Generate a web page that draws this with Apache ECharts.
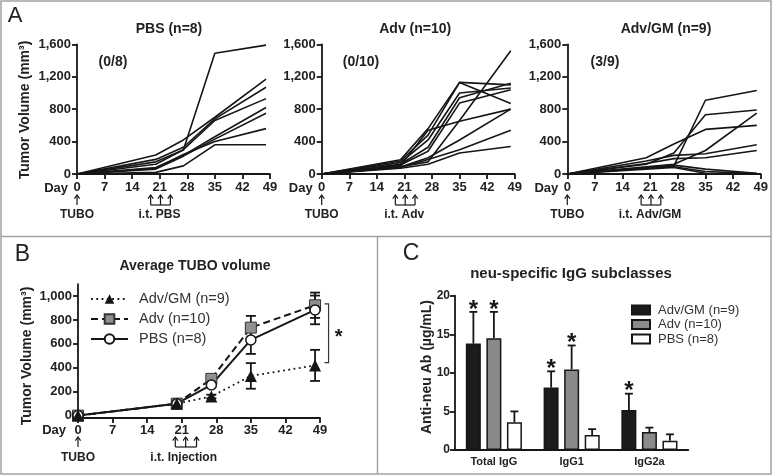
<!DOCTYPE html>
<html><head><meta charset="utf-8">
<script src="https://cdn.jsdelivr.net/npm/echarts@6/dist/echarts.min.js"></script>
<style>html,body{margin:0;padding:0;background:#fff}#c{width:773px;height:475px}</style>
</head><body><div id="c"></div>
<script>
const FONT = '"Liberation Sans", Arial, Helvetica, sans-serif';
const INK = '#161616';
const TXT = '#222';

// ---------- Panel A data (day, tumor volume mm3) ----------
const aDays = [0, 20, 27, 35, 48];
const pbsLines = [
  [0, 150, 297, 1490, 1590],
  [0, 235, 420, 700, 1170],
  [0, 180, 330, 680, 1070],
  [0, 120, 300, 660, 930],
  [0, 80, 230, 460, 820],
  [0, 60, 220, 430, 750],
  [0, 70, 240, 400, 560],
  [0, 20, 100, 360, 360]
];
const advLines = [
  [0, 90, 150, 660, 1520],
  [0, 160, 480, 1130, 1100],
  [0, 175, 560, 1130, 870],
  [0, 140, 420, 1000, 1060],
  [0, 120, 330, 940, 1120],
  [0, 110, 280, 875, 1040],
  [0, 100, 540, 650, 800],
  [0, 85, 200, 420, 800],
  [0, 80, 180, 300, 540],
  [0, 70, 120, 260, 340]
];
const gmLines = [
  [0, 70, 100, 910, 1030],
  [0, 120, 260, 730, 790],
  [0, 200, 370, 550, 600],
  [0, 90, 120, 290, 750],
  [0, 160, 230, 250, 360],
  [0, 130, 190, 200, 290],
  [0, 80, 110, 60, 10],
  [0, 70, 90, 30, 5],
  [0, 60, 80, 10, 0]
];
const aTitles = ['PBS (n=8)', 'Adv (n=10)', 'Adv/GM (n=9)'];
const aCounts = ['(0/8)', '(0/10)', '(3/9)'];
const aInjLabels = ['i.t. PBS', 'i.t. Adv', 'i.t. Adv/GM'];
const injDaysA = [18.7, 21.2, 23.7];

// ---------- Panel B data ----------
const bDays = [0, 20, 27, 35, 48];
const bGmMean = [0, 100, 160, 332, 420];
const bGmSem = [0, 8, 15, 107, 130];
const bAdvMean = [0, 100, 307, 736, 923];
const bAdvSem = [0, 8, 20, 98, 106];
const bPbsMean = [0, 100, 257, 633, 884];
const bPbsSem = [0, 8, 20, 117, 120];
const bYTicks = [0, 200, 400, 600, 800, 1000];
const bBracket = [48, 935, 443];
const injDaysB = [19.7, 21.8, 24];

// ---------- Panel C data ----------
const cCats = ['Total IgG', 'IgG1', 'IgG2a'];
const cGm = [13.8, 8.1, 5.2];
const cGmErr = [4.1, 2.1, 2.1];
const cAdv = [14.5, 10.45, 2.33];
const cAdvErr = [3.4, 3.1, 0.57];
const cPbs = [3.6, 1.94, 1.2];
const cPbsErr = [1.4, 0.76, 0.83];
const cGmSig = [1, 1, 1];
const cAdvSig = [1, 1, 0];
const cPbsSig = [0, 0, 0];

const legB = ['Adv/GM (n=9)', 'Adv (n=10)', 'PBS (n=8)'];
const legC = ['C:Adv/GM (n=9)', 'C:Adv (n=10)', 'C:PBS (n=8)'];

// ---------- layout ----------
const gridsA = [
  {left: 77, top: 44.3, width: 193, height: 129.7},
  {left: 321.7, top: 44.3, width: 193, height: 129.7},
  {left: 567.3, top: 44.3, width: 193.4, height: 129.7}
];
const gridB = {left: 78, top: 284.1, width: 242, height: 133.9};
const gridC = {left: 455, top: 295.7, width: 233.3, height: 154.3};

function addCommas(v){ return String(v).replace(/\B(?=(\d{3})+(?!\d))/g, ','); }
function axis(o, labelSize, margin){
  return Object.assign({
    axisLine: {show: true, onZero: false, lineStyle: {color: INK, width: 1.8}},
    axisTick: {show: true, length: 5, lineStyle: {color: INK, width: 1.8}},
    axisLabel: {color: TXT, fontFamily: FONT, fontWeight: 'bold', fontSize: labelSize, margin: margin},
    splitLine: {show: false}
  }, o);
}

const xAxes = [], yAxes = [], series = [];
gridsA.forEach((g, i) => {
  xAxes.push(axis({gridIndex: i, type: 'value', min: 0, max: 49, interval: 7}, 13, 7));
  const y = axis({gridIndex: i, type: 'value', min: 0, max: 1600, interval: 400}, 13, 6);
  y.axisLabel.formatter = v => addCommas(v);
  yAxes.push(y);
});
[pbsLines, advLines, gmLines].forEach((lines, i) => {
  lines.forEach((ln, k) => {
    series.push({
      type: 'line', name: 'A' + i + '-' + k, xAxisIndex: i, yAxisIndex: i,
      data: aDays.map((d, j) => [d, ln[j]]), symbol: 'none', silent: true,
      lineStyle: {color: INK, width: 1.6}
    });
  });
});

// Panel B axes (index 3)
xAxes.push(axis({gridIndex: 3, type: 'value', min: 0, max: 49, interval: 7}, 13, 6));
const yb = axis({gridIndex: 3, type: 'value', min: -20, max: 1100}, 13, 6);
yb.axisTick = {show: true, length: 5, customValues: bYTicks, lineStyle: {color: INK, width: 1.8}};
yb.axisLabel.customValues = bYTicks;
yb.axisLabel.formatter = v => addCommas(v);
yAxes.push(yb);

function errRender(params, api){
  const x = api.value(0), lo = api.value(1), hi = api.value(2);
  const a = api.coord([x, lo]), b = api.coord([x, hi]);
  const w = 5, st = {stroke: INK, lineWidth: 1.8};
  return {type: 'group', children: [
    {type: 'line', shape: {x1: a[0], y1: a[1], x2: b[0], y2: b[1]}, style: st},
    {type: 'line', shape: {x1: a[0]-w, y1: a[1], x2: a[0]+w, y2: a[1]}, style: st},
    {type: 'line', shape: {x1: b[0]-w, y1: b[1], x2: b[0]+w, y2: b[1]}, style: st}
  ]};
}
[[bAdvMean, bAdvSem], [bPbsMean, bPbsSem], [bGmMean, bGmSem]].forEach(([m, s]) => {
  series.push({type: 'custom', xAxisIndex: 3, yAxisIndex: 3, z: 2, silent: true,
    renderItem: errRender, encode: {x: 0, y: [1, 2]},
    data: bDays.map((d, j) => [d, m[j] - s[j], m[j] + s[j]])});
});
series.push({type: 'line', name: legB[1], xAxisIndex: 3, yAxisIndex: 3, z: 3,
  data: bDays.map((d, j) => [d, bAdvMean[j]]),
  lineStyle: {color: INK, width: 2, type: [7, 4]},
  symbol: 'rect', symbolSize: 11, itemStyle: {color: '#8f8f8f', borderColor: '#333', borderWidth: 1}});
series.push({type: 'line', name: legB[2], xAxisIndex: 3, yAxisIndex: 3, z: 3,
  data: bDays.map((d, j) => [d, bPbsMean[j]]),
  lineStyle: {color: INK, width: 2},
  symbol: 'circle', symbolSize: 10, itemStyle: {color: '#fff', borderColor: INK, borderWidth: 1.5}});
series.push({type: 'line', name: legB[0], xAxisIndex: 3, yAxisIndex: 3, z: 3,
  data: bDays.map((d, j) => [d, bGmMean[j]]),
  lineStyle: {color: INK, width: 1.8, type: [1.8, 3.5]},
  symbol: 'triangle', symbolSize: 12, itemStyle: {color: INK}});
series.push({type: 'custom', xAxisIndex: 3, yAxisIndex: 3, z: 2, silent: true,
  encode: {x: 0, y: [1, 2]}, data: [bBracket],
  renderItem: (p, api) => {
    const t = api.coord([api.value(0), api.value(1)]), b = api.coord([api.value(0), api.value(2)]);
    const x = t[0] + 13.5, st = {stroke: '#333', lineWidth: 1.2, fill: null};
    return {type: 'group', children: [
      {type: 'polyline', shape: {points: [[x-4, t[1]], [x, t[1]], [x, b[1]], [x-4, b[1]]]}, style: st},
      {type: 'text', style: {text: '*', x: x + 10, y: (t[1] + b[1]) / 2 + 4, align: 'center', verticalAlign: 'middle',
        font: 'bold 20px ' + FONT, fill: INK}}
    ]};
  }});

// Panel C axes (index 4)
xAxes.push(axis({gridIndex: 4, type: 'category', data: cCats, axisTick: {show: false}}, 11, 6));
yAxes.push(axis({gridIndex: 4, type: 'value', min: 0, max: 20, interval: 5}, 12, 5));
const cSeries = [[cGm, '#1b1b1b'], [cAdv, '#8a8a8a'], [cPbs, '#ffffff']];
cSeries.forEach(([vals, col], i) => {
  series.push({type: 'bar', name: legC[i], xAxisIndex: 4, yAxisIndex: 4, barWidth: 15, barGap: '37%',
    data: vals, itemStyle: {color: col, borderColor: INK, borderWidth: 1.5}, z: 3});
});
const cErrData = [];
[[cGm, cGmErr, cGmSig], [cAdv, cAdvErr, cAdvSig], [cPbs, cPbsErr, cPbsSig]].forEach(([v, e, s], si) => {
  v.forEach((val, ci) => cErrData.push([ci, val, e[ci], s[ci], si]));
});
series.push({type: 'custom', xAxisIndex: 4, yAxisIndex: 4, z: 2, silent: true,
  encode: {x: 0, y: 1}, data: cErrData,
  renderItem: (p, api) => {
    const ci = api.value(0), v = api.value(1), e = api.value(2), sig = api.value(3), si = api.value(4);
    const base = api.coord([ci, v]), top = api.coord([ci, v + e]);
    const x = base[0] + (si - 1) * 20.5, st = {stroke: INK, lineWidth: 1.8};
    const ch = [
      {type: 'line', shape: {x1: x, y1: base[1], x2: x, y2: top[1]}, style: st},
      {type: 'line', shape: {x1: x - 4, y1: top[1], x2: x + 4, y2: top[1]}, style: st}
    ];
    if (sig) ch.push({type: 'text', style: {text: '*', x: x, y: top[1] - 2, align: 'center', verticalAlign: 'middle',
      font: 'bold 24px ' + FONT, fill: INK}});
    return {type: 'group', children: ch};
  }});

const chart = echarts.init(document.getElementById('c'), null, {renderer: 'canvas'});
chart.setOption({
  animation: false,
  backgroundColor: '#fff',
  grid: [...gridsA, gridB, gridC],
  xAxis: xAxes, yAxis: yAxes,
  legend: [
    {data: legB, orient: 'vertical', left: 90, top: 291.5, padding: 0, itemWidth: 37, itemHeight: 12, itemGap: 5,
      selectedMode: false, textStyle: {fontFamily: FONT, fontSize: 14.5, color: '#333', padding: [0, 0, 0, 6]}},
    {data: legC, orient: 'vertical', left: 631, top: 303.5, padding: 0, itemWidth: 18, itemHeight: 9, itemGap: 1.5, icon: 'rect',
      selectedMode: false, formatter: n => n.replace(/^C:/, ''),
      textStyle: {fontFamily: FONT, fontSize: 13, color: '#333', padding: [0, 0, 0, 3]}}
  ],
  series: series
});

// ---------- annotations ----------
const G = [];
const txt = (text, x, y, size, weight, align, rot) => ({type: 'text', x: x, y: y, rotation: rot || 0, silent: true,
  style: {text: text, x: 0, y: 0, align: align || 'center', verticalAlign: 'middle',
    font: (weight || 'bold') + ' ' + size + 'px ' + FONT, fill: TXT}});
const seg = (x1, y1, x2, y2, w, c) => ({type: 'line', silent: true, shape: {x1, y1, x2, y2}, style: {stroke: c || INK, lineWidth: w || 1.2}});
function upArrow(x, yt, yb){
  return [seg(x, yt, x, yb), {type: 'polyline', silent: true, shape: {points: [[x-2.6, yt+3.6], [x, yt], [x+2.6, yt+3.6]]},
    style: {stroke: INK, lineWidth: 1.2, fill: null}}];
}
function injArrows(xs, yt, yb){
  const out = [];
  xs.forEach(x => out.push(...upArrow(x, yt, yb)));
  out.push(seg(xs[0], yb, xs[xs.length-1], yb));
  return out;
}
// borders
const BC = '#a3a3a3';
G.push({type: 'rect', silent: true, shape: {x: 1, y: 1, width: 770, height: 473}, style: {stroke: BC, lineWidth: 1.5, fill: null}});
G.push(seg(1, 236.5, 771, 236.5, 1.5, BC));
G.push(seg(377.5, 236.5, 377.5, 474, 1.5, BC));
// letters
G.push(txt('A', 15, 16, 22, 'normal'));
G.push(txt('B', 22.5, 255, 23, 'normal'));
G.push(txt('C', 411, 253.5, 23, 'normal'));
// panel A texts
const titleDx = [-4.5, -3, 2];
const countX = [113, 361, 605];
gridsA.forEach((g, i) => {
  const p0 = chart.convertToPixel({xAxisIndex: i, yAxisIndex: i}, [0, 0]);
  G.push(txt(aTitles[i], g.left + g.width / 2 + titleDx[i], 29, 14));
  G.push(txt(aCounts[i], countX[i], 62, 14));
  G.push(txt('Day', p0[0] - 9, p0[1] + 14, 13, 'bold', 'right'));
  G.push(...upArrow(p0[0], p0[1] + 21, p0[1] + 31));
  G.push(txt('TUBO', p0[0], p0[1] + 41, 12));
  const xs = injDaysA.map(d => chart.convertToPixel({xAxisIndex: i, yAxisIndex: i}, [d, 0])[0]);
  G.push(...injArrows(xs, p0[1] + 21, p0[1] + 31));
  G.push(txt(aInjLabels[i], xs[1] - 1, p0[1] + 41, 12));
});
G.push(txt('Tumor Volume (mm³)', 25, 110, 14, 'bold', 'center', Math.PI / 2));
// panel B texts
{
  const p0 = chart.convertToPixel({xAxisIndex: 3, yAxisIndex: 3}, [0, -20]);
  G.push(txt('Average TUBO volume', 195, 266, 14));
  G.push(txt('Day', p0[0] - 12, p0[1] + 12, 13, 'bold', 'right'));
  G.push(...upArrow(p0[0], p0[1] + 19, p0[1] + 29));
  G.push(txt('TUBO', p0[0], p0[1] + 39.5, 12));
  const xs = injDaysB.map(d => chart.convertToPixel({xAxisIndex: 3, yAxisIndex: 3}, [d, 0])[0]);
  G.push(...injArrows(xs, p0[1] + 19, p0[1] + 29));
  G.push(txt('i.t. Injection', xs[1] - 2, p0[1] + 39.5, 12));
  G.push(txt('Tumor Volume (mm³)', 26.7, 356, 14, 'bold', 'center', Math.PI / 2));
}
// panel C texts
G.push(txt('neu-specific IgG subclasses', 571, 273.5, 15));
G.push(txt('Anti-neu Ab (µg/mL)', 426.7, 367, 14, 'bold', 'center', Math.PI / 2));

chart.setOption({graphic: G});
</script></body></html>
